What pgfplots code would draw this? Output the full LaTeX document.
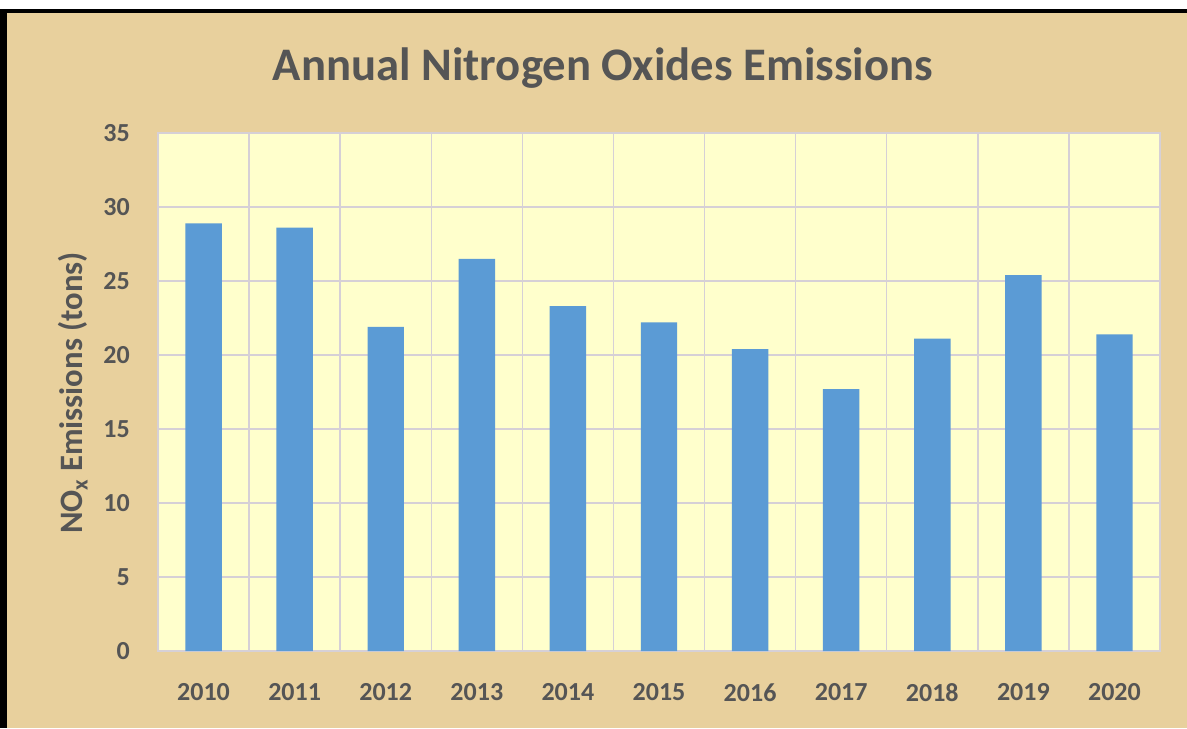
\documentclass[border=0pt]{standalone}
\usepackage{fontspec}
\setmainfont{Carlito}
\usepackage{pgfplots}
\pgfplotsset{compat=1.18}
\definecolor{parch}{HTML}{E8D09D}
\definecolor{plotbg}{HTML}{FFFFCC}
\definecolor{gridc}{HTML}{D6D0D6}
\definecolor{txt}{HTML}{555555}
\definecolor{barc}{HTML}{5B9BD5}
\begin{document}
\begin{tikzpicture}[x=0.75pt,y=0.75pt]
\fill[white] (0,0) rectangle (1187,728);
\fill[parch] (0,0) rectangle (1187,717);
\fill[black] (0,0) rectangle (7,718);
\fill[black] (0,715) rectangle (1187,718.5);
\node[text=txt,font=\bfseries\fontsize{35}{42}\selectfont] at (603,660) {Annual Nitrogen Oxides Emissions};
\node[text=txt,font=\bfseries\fontsize{24.5}{29}\selectfont,rotate=90] at (73,335) {NO\textsubscript{x} Emissions (tons)};
\begin{axis}[
  at={(118.5pt,57.75pt)}, anchor=south west,
  width=751.5pt, height=388.5pt, scale only axis,
  axis background/.style={fill=plotbg},
  xmin=-0.5, xmax=10.5, ymin=0, ymax=35,
  xtick={0,...,10},
  xticklabels={2010,2011,2012,2013,2014,2015,2016,2017,2018,2019,2020},
  minor xtick={0.5,1.5,...,9.5},
  ytick={0,5,...,35},
  xminorgrids=true, ymajorgrids=true,
  grid style={gridc, line width=1.1pt},
  minor grid style={gridc, line width=1.1pt},
  axis line style={gridc, line width=1.5pt},
  major tick length=0pt, minor tick length=0pt,
  /pgf/number format/assume math mode=true,
  ticklabel style={text=txt, font=\bfseries\fontsize{19.5}{23}\selectfont},
  xticklabel style={anchor=center, yshift=-31pt},
  yticklabel style={anchor=east, inner sep=0pt, xshift=-21pt},
  ybar, bar width=0.4,
]
\addplot[fill=barc, draw=none] coordinates {
(0,28.9) (1,28.6) (2,21.9) (3,26.5) (4,23.3) (5,22.2) (6,20.4) (7,17.7) (8,21.1) (9,25.4) (10,21.4)};
\end{axis}
\end{tikzpicture}
\end{document}
